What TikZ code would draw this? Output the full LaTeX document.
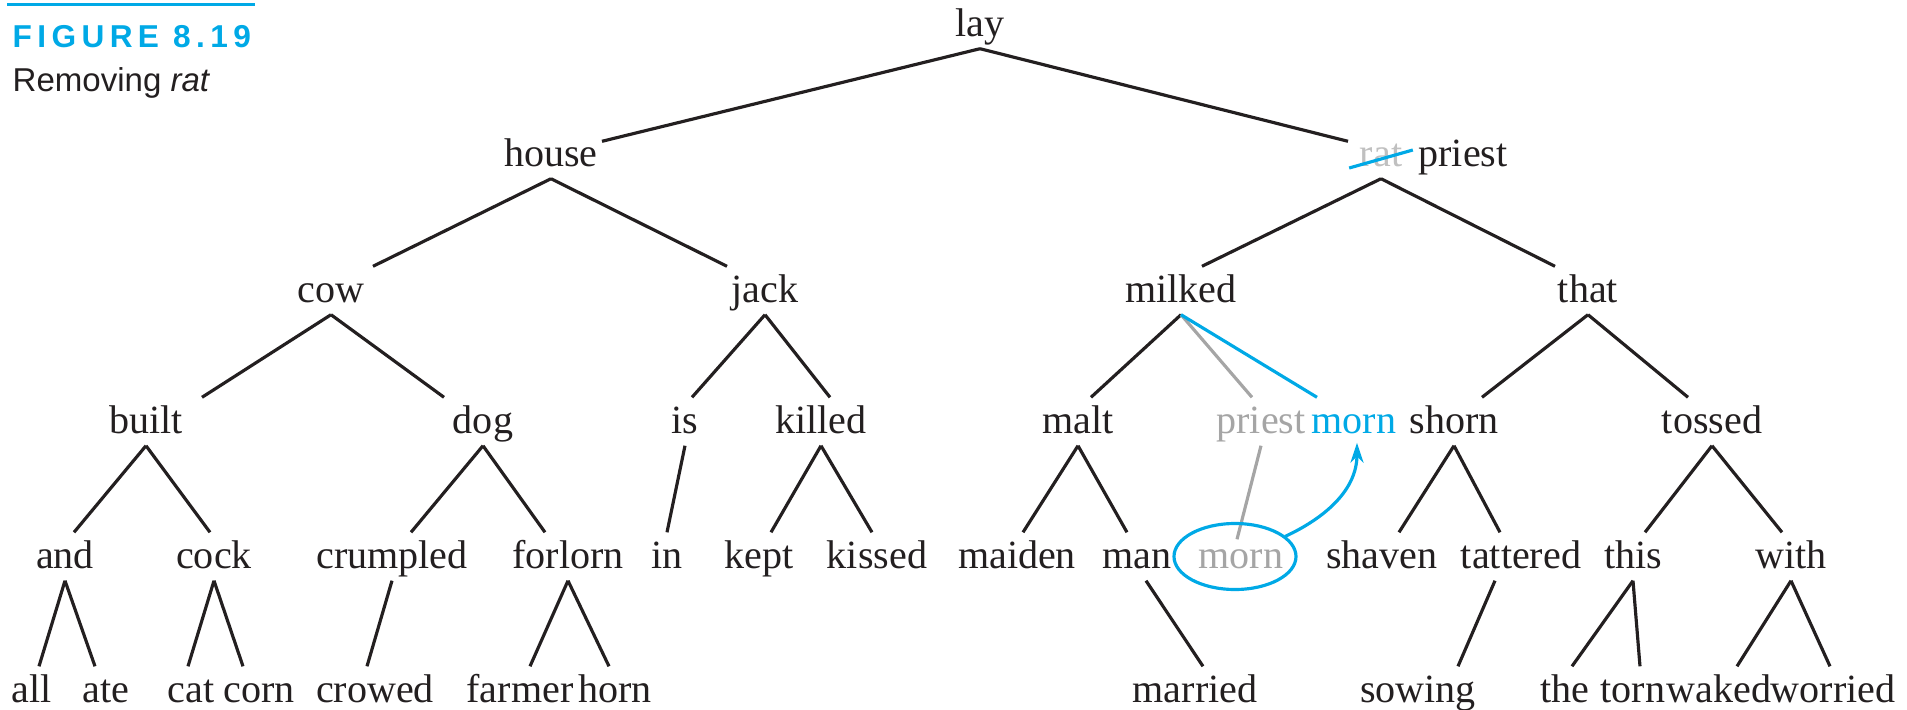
\documentclass[tikz,border=0pt]{standalone}
\usepackage{fontspec}
\setmainfont{Liberation Serif}
\newfontfamily\capfont{Liberation Sans}
\newfontfamily\figfont[LetterSpace=17]{Liberation Sans}
\usetikzlibrary{arrows.meta}

\definecolor{figblue}{RGB}{0,169,230}
\definecolor{ink}{RGB}{35,31,32}
\definecolor{oldgray}{RGB}{165,165,165}

\tikzset{
  word/.style={anchor=base, inner sep=0pt, text height=3.5mm, text depth=1.2mm,
    text=ink, font=\fontsize{11.4}{13}\selectfont},
  old/.style={word, text=oldgray},
  branch/.style={draw=ink, line width=0.9pt},
  oldbranch/.style={draw=oldgray, line width=0.9pt},
  newbranch/.style={draw=figblue, line width=0.9pt},
}

\begin{document}
\begin{tikzpicture}
    \useasboundingbox (0,0) rectangle (19.07,7.09);

    % Caption
    \fill[figblue] (0.07,7.03) rectangle (2.55,7.06);
    \node[anchor=base west, inner sep=0pt, text=figblue,
      font=\figfont\bfseries\fontsize{9}{11}\selectfont] (fig) at (0.12,6.62) {FIGURE 8.19};
    \node[anchor=base west, inner sep=0pt, text=ink,
      font=\capfont\fontsize{9.4}{11}\selectfont] (cap) at (0.12,6.18) {Removing \textit{rat}};

    % Root and second level
    \node[word] (lay) at (9.80,6.73) {lay};
    \node[word] (house) at (5.51,5.43) {house};
    \node[word, text=oldgray!70] (rat) at (13.81,5.43) {rat};
    \node[word, anchor=base west] (priest) at ([xshift=1.5mm]rat.base east) {priest};

    % Third level
    \node[word] (cow) at (3.31,4.07) {cow};
    \node[word] (jack) at (7.65,4.07) {jack};
    \node[word] (milked) at (11.81,4.07) {milked};
    \node[word] (that) at (15.88,4.07) {that};

    % Fourth level
    \node[word] (built) at (1.46,2.76) {built};
    \node[word] (dog) at (4.83,2.76) {dog};
    \node[word] (is) at (6.85,2.76) {is};
    \node[word] (killed) at (8.21,2.76) {killed};
    \node[word] (malt) at (10.78,2.76) {malt};
    \node[old] (priestold) at (12.61,2.76) {priest};
    \node[word, text=figblue] (mornnew) at (13.54,2.76) {morn};
    \node[word] (shorn) at (14.54,2.76) {shorn};
    \node[word] (tossed) at (17.12,2.76) {tossed};

    % Fifth level
    \node[word] (and) at (0.65,1.41) {and};
    \node[word] (cock) at (2.14,1.41) {cock};
    \node[word] (crumpled) at (3.92,1.41) {crumpled};
    \node[word] (forlorn) at (5.68,1.41) {forlorn};
    \node[word] (in) at (6.67,1.41) {in};
    \node[word] (kept) at (7.59,1.41) {kept};
    \node[word] (kissed) at (8.77,1.41) {kissed};
    \node[word] (maiden) at (10.17,1.41) {maiden};
    \node[word] (man) at (11.37,1.41) {man};
    \node[old] (mornold) at (12.41,1.41) {morn};
    \node[word] (shaven) at (13.82,1.41) {shaven};
    \node[word] (tattered) at (15.21,1.41) {tattered};
    \node[word] (this) at (16.33,1.41) {this};
    \node[word] (with) at (17.91,1.41) {with};

    % Leaves
    \node[word] (all) at (0.32,0.07) {all};
    \node[word] (ate) at (1.06,0.07) {ate};
    \node[word] (cat) at (1.91,0.07) {cat};
    \node[word] (corn) at (2.59,0.07) {corn};
    \node[word] (crowed) at (3.75,0.07) {crowed};
    \node[word] (farmer) at (5.20,0.07) {farmer};
    \node[word] (horn) at (6.15,0.07) {horn};
    \node[word] (married) at (11.95,0.07) {married};
    \node[word] (sowing) at (14.18,0.07) {sowing};
    \node[word] (the) at (15.65,0.07) {the};
    \node[word] (torn) at (16.33,0.07) {torn};
    \node[word] (waked) at (17.19,0.07) {waked};
    \node[word] (worried) at (18.33,0.07) {worried};

    % Branches: parent/child/offset of the lower end (mm)
    \draw[branch] (lay.south) -- ([xshift=5.1mm,yshift=-1.1mm]house.north);
    \draw[branch] (lay.south) -- ([xshift=-3.3mm,yshift=-1.1mm]rat.north);
    \foreach \p/\c/\dx in {house/cow/4.2, house/jack/-3.8, rat/milked/2.1, rat/that/-3.3,
        cow/built/5.6, cow/dog/-3.9, jack/is/0.7, jack/killed/0.9,
        milked/malt/1.3, that/shorn/2.8, that/tossed/-2.4,
        built/and/0.9, built/cock/-0.4, dog/crumpled/1.9, dog/forlorn/-2.3,
        is/in/0, killed/kept/1.2, killed/kissed/-0.5, malt/maiden/0.6, malt/man/-1.0,
        shorn/shaven/1.7, shorn/tattered/-2.1, tossed/this/1.2, tossed/with/-0.9,
        and/all/0.7, and/ate/-1.1, cock/cat/-0.3, cock/corn/-1.6,
        crumpled/crowed/-0.8, forlorn/farmer/1.0, forlorn/horn/-0.6,
        this/the/0.7, this/torn/0.7, with/waked/1.8, with/worried/-0.3}
      \draw[branch] (\p.south) -- ([xshift=\dx mm]\c.north);
    \draw[branch] ([xshift=0.9mm]man.south) -- ([xshift=0.8mm]married.north);
    \draw[branch] ([xshift=-2.6mm]tattered.south) -- ([xshift=4.0mm]sowing.north);

    % Old links in gray
    \draw[oldbranch] (milked.south) -- ([xshift=-0.9mm]priestold.north);
    \draw[oldbranch] (priestold.south) -- ([xshift=-0.4mm,yshift=-0.7mm]mornold.north);

    % Fix-up in blue
    \draw[newbranch] ([xshift=-1mm,yshift=-0.2mm]rat.base west) -- ([xshift=1mm,yshift=1.6mm]rat.base east);
    \draw[newbranch] (milked.south) -- ([xshift=-3.7mm]mornnew.north);
    \draw[newbranch] ([xshift=-0.6mm]mornold.center) ellipse [x radius=6.1mm, y radius=3.3mm];
    \draw[newbranch, -{Stealth[length=2mm,width=1.3mm]}] ([xshift=4.4mm,yshift=2mm]mornold.center)
      to[out=25,in=-90] ([xshift=0.3mm,yshift=0.3mm]mornnew.south);
\end{tikzpicture}
\end{document}
